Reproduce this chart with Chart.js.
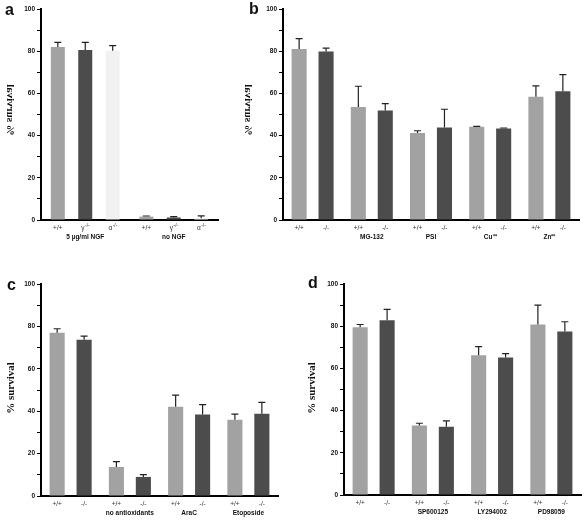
<!DOCTYPE html>
<html>
<head>
<meta charset="utf-8">
<script src="https://cdn.jsdelivr.net/npm/chart.js@4.4.1/dist/chart.umd.min.js"></script>
<style>
html, body { margin: 0; padding: 0; background: #fff; }
body { position: relative; width: 585px; height: 520px; overflow: hidden; }
canvas { position: absolute; }
</style>
</head>
<body>
<canvas id="panelA" width="240" height="260" style="left:0;top:0"></canvas>
<canvas id="panelB" width="345" height="260" style="left:240px;top:0"></canvas>
<canvas id="panelC" width="295" height="260" style="left:0;top:260px"></canvas>
<canvas id="panelD" width="290" height="260" style="left:295px;top:260px"></canvas>
<script>
// panel a
const aGroups = ['5 µg/ml NGF', 'no NGF'];
const aGenotypes = ['+/+', 'γ', 'α'];
const aGenotypeSup = ['', '-/-', '-/-'];
const aWild = [82.0, 1.6];
const aWildErr = [2.2, 0.3];
const aGamma = [80.6, 1.2];
const aGammaErr = [3.6, 0.4];
const aAlpha = [80.2, 0.8];
const aAlphaErr = [2.4, 1.2];

// panel b
const bGroups = ['', 'MG-132', 'PSI', 'Cu⁺⁺', 'Zn⁺⁺'];
const bWild = [81.1, 53.5, 41.2, 44.2, 58.4];
const bWildErr = [4.9, 9.9, 1.1, 0.2, 5.2];
const bKo = [79.8, 51.9, 43.8, 43.4, 61.0];
const bKoErr = [1.7, 3.3, 8.7, 0.2, 7.9];

// panel c
const cGroups = ['', 'no antioxidants', 'AraC', 'Etoposide'];
const cWild = [77.0, 13.7, 42.1, 36.0];
const cWildErr = [1.9, 2.5, 5.5, 2.6];
const cKo = [73.7, 9.0, 38.5, 38.8];
const cKoErr = [1.7, 1.1, 4.6, 5.4];

// panel d
const dGroups = ['', 'SP600125', 'LY294002', 'PD98059'];
const dWild = [79.5, 32.9, 66.2, 80.8];
const dWildErr = [1.3, 1.1, 4.1, 9.2];
const dKo = [82.8, 32.4, 65.2, 77.5];
const dKoErr = [5.2, 2.7, 1.8, 4.6];

const pairGenotypes = ['+/+', '-/-'];
const pairSup = ['', ''];

const LIGHT = '#a2a2a2';
const DARK = '#4c4c4c';
const PALE = '#f1f1f1';
const SANS = '"Liberation Sans", Arial, sans-serif';
const SERIF = '"Liberation Serif", "Times New Roman", serif';

function makePanel(id, p) {
    const extras = {
        id: 'extras',
        afterDatasetsDraw(chart) {
            const ctx = chart.ctx;
            const y = chart.scales.y;
            const area = chart.chartArea;
            ctx.save();
            // error bars (upper only)
            ctx.strokeStyle = '#222';
            ctx.lineWidth = 1.2;
            p.sets.forEach((s, i) => {
                const meta = chart.getDatasetMeta(i);
                meta.data.forEach((bar, j) => {
                    const top = y.getPixelForValue(s.data[j]);
                    const cap = y.getPixelForValue(s.data[j] + s.err[j]);
                    ctx.beginPath();
                    ctx.moveTo(bar.x, top);
                    ctx.lineTo(bar.x, cap);
                    ctx.moveTo(bar.x - 3.5, cap);
                    ctx.lineTo(bar.x + 3.5, cap);
                    ctx.stroke();
                });
            });
            // genotype labels under each bar
            ctx.fillStyle = '#333';
            ctx.textBaseline = 'middle';
            p.sets.forEach((s, i) => {
                const meta = chart.getDatasetMeta(i);
                meta.data.forEach(bar => {
                    const base = p.genotypes[i];
                    const sup = p.sup[i];
                    ctx.font = '6.5px ' + SANS;
                    const w1 = ctx.measureText(base).width;
                    ctx.font = '5px ' + SANS;
                    const w2 = sup ? ctx.measureText(sup).width : 0;
                    let x = bar.x - (w1 + w2) / 2;
                    const ly = area.bottom + 8;
                    ctx.font = '6.5px ' + SANS;
                    ctx.textAlign = 'left';
                    ctx.fillText(base, x, ly);
                    if (sup) {
                        ctx.font = '5px ' + SANS;
                        ctx.fillText(sup, x + w1 + 0.5, ly - 2.5);
                    }
                });
            });
            // y axis title
            ctx.font = 'bold 11px ' + SERIF;
            ctx.fillStyle = '#111';
            ctx.textAlign = 'center';
            ctx.translate(p.titleX, p.titleY);
            if (p.mirror) ctx.scale(-1, 1);
            ctx.rotate(-Math.PI / 2);
            ctx.fillText('% survival', 0, 0);
            ctx.restore();
            // panel letter
            ctx.save();
            ctx.font = 'bold 16px ' + SANS;
            ctx.fillStyle = '#111';
            ctx.textBaseline = 'alphabetic';
            ctx.textAlign = 'left';
            ctx.fillText(p.letter, p.letterX, p.letterY);
            ctx.restore();
        }
    };

    new Chart(document.getElementById(id), {
        type: 'bar',
        data: {
            labels: p.groups,
            datasets: p.sets.map(s => ({
                data: s.data,
                backgroundColor: s.color,
                borderWidth: 0,
                barPercentage: p.barPct,
                categoryPercentage: p.catPct
            }))
        },
        options: {
            responsive: false,
            animation: false,
            layout: { padding: { left: 0, right: p.padRight, top: p.padTop, bottom: 0 } },
            plugins: { legend: { display: false }, tooltip: { enabled: false } },
            scales: {
                x: {
                    grid: { display: true, drawOnChartArea: false, drawTicks: false, color: 'rgba(0,0,0,0)' },
                    border: { display: true, color: '#000', width: 2 },
                    ticks: {
                        color: '#111',
                        padding: 13,
                        maxRotation: 0,
                        autoSkip: false,
                        font: { family: SANS, size: 6.5, weight: 'bold' }
                    },
                    afterFit: s => { s.height = p.xHeight; }
                },
                y: {
                    min: 0,
                    max: 100,
                    grid: { drawOnChartArea: false, drawTicks: true, tickLength: 4, color: '#000', lineWidth: 1 },
                    border: { display: true, color: '#000', width: 2 },
                    ticks: {
                        stepSize: 10,
                        padding: 2,
                        color: '#111',
                        font: { family: SANS, size: 6.5, weight: 'bold' },
                        callback: v => (v % 20 === 0 ? v : '')
                    },
                    afterFit: s => { s.width = p.yWidth; }
                }
            }
        },
        plugins: [extras]
    });
}

makePanel('panelA', {
    groups: aGroups,
    sets: [
        { data: aWild, err: aWildErr, color: LIGHT },
        { data: aGamma, err: aGammaErr, color: DARK },
        { data: aAlpha, err: aAlphaErr, color: PALE }
    ],
    genotypes: aGenotypes, sup: aGenotypeSup,
    catPct: 0.93, barPct: 0.51,
    yWidth: 41, xHeight: 40, padTop: 9, padRight: 22,
    titleX: 10, titleY: 110, mirror: true,
    letter: 'a', letterX: 5, letterY: 15
});

makePanel('panelB', {
    groups: bGroups,
    sets: [
        { data: bWild, err: bWildErr, color: LIGHT },
        { data: bKo, err: bKoErr, color: DARK }
    ],
    genotypes: pairGenotypes, sup: pairSup,
    catPct: 0.91, barPct: 0.56,
    yWidth: 43, xHeight: 40, padTop: 9, padRight: 6,
    titleX: 8, titleY: 110, mirror: true,
    letter: 'b', letterX: 9, letterY: 14
});

makePanel('panelC', {
    groups: cGroups,
    sets: [
        { data: cWild, err: cWildErr, color: LIGHT },
        { data: cKo, err: cKoErr, color: DARK }
    ],
    genotypes: pairGenotypes, sup: pairSup,
    catPct: 0.91, barPct: 0.56,
    yWidth: 41, xHeight: 24, padTop: 24, padRight: 17,
    titleX: 11, titleY: 128, mirror: false,
    letter: 'c', letterX: 7, letterY: 30
});

makePanel('panelD', {
    groups: dGroups,
    sets: [
        { data: dWild, err: dWildErr, color: LIGHT },
        { data: dKo, err: dKoErr, color: DARK }
    ],
    genotypes: pairGenotypes, sup: pairSup,
    catPct: 0.91, barPct: 0.56,
    yWidth: 49, xHeight: 25, padTop: 24, padRight: 4,
    titleX: 17, titleY: 128, mirror: false,
    letter: 'd', letterX: 13, letterY: 28
});
</script>
</body>
</html>
